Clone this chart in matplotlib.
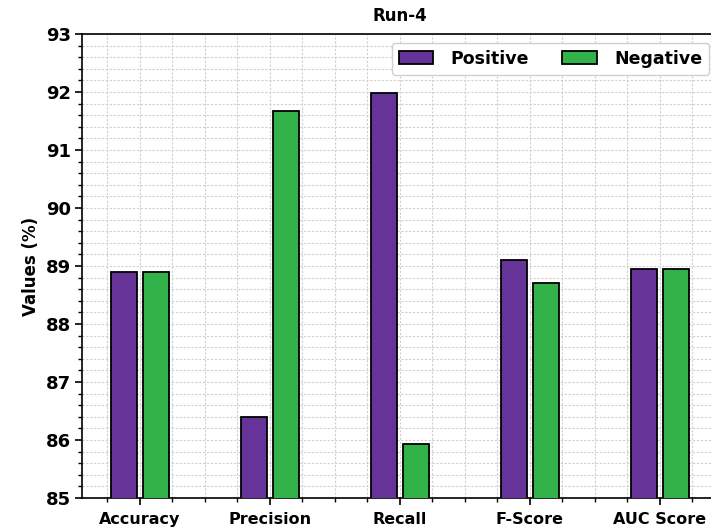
import numpy as np
import matplotlib.pyplot as plt
from matplotlib.ticker import MultipleLocator

metrics = ["Accuracy", "Precision", "Recall", "F-Score", "AUC Score"]
positive = [88.90, 86.40, 91.99, 89.10, 88.94]
negative = [88.90, 91.68, 85.93, 88.70, 88.94]

x = np.arange(len(metrics))
barWidth = 0.2

fig = plt.figure(figsize=(7.11, 5.27), dpi=100)
ax = fig.add_axes([0.1153, 0.055, 0.8945, 0.8805])

ax.bar(x - 0.125, positive, width=barWidth, color="#663399",
       edgecolor="black", linewidth=1.3, label="Positive", zorder=3)
ax.bar(x + 0.125, negative, width=barWidth, color="#33b24a",
       edgecolor="black", linewidth=1.3, label="Negative", zorder=3)

ax.set_ylim(85, 93)
ax.set_xlim(-0.446, 4.446)
ax.set_xticks(x)
ax.set_xticklabels(metrics, fontsize=11.5, fontweight="bold")
ax.xaxis.set_minor_locator(MultipleLocator(0.25))
ax.yaxis.set_major_locator(MultipleLocator(1))
ax.yaxis.set_minor_locator(MultipleLocator(0.2))
for lab in ax.get_yticklabels():
    lab.set_fontsize(13)
    lab.set_fontweight("bold")
ax.tick_params(axis="x", which="major", length=5, width=1.2, pad=5)
ax.tick_params(axis="y", which="major", length=5, width=1.2, pad=3)
ax.tick_params(axis="both", which="minor", length=3, width=1)

ax.grid(True, which="both", linestyle=(0, (2, 1.5)), color="#cfcfcf", linewidth=0.8, zorder=0)

ax.set_ylabel("Values (%)", fontsize=12, fontweight="bold")
ax.set_title("Run-4", fontsize=12, fontweight="bold", pad=9)

ax.legend(loc="upper right", ncol=2, prop={"weight": "bold", "size": 12.5},
          framealpha=1, edgecolor="#d0d0d0", handletextpad=1.0,
          columnspacing=1.9)

for s in ax.spines.values():
    s.set_linewidth(1.2)

fig.savefig("out.png", dpi=100)
